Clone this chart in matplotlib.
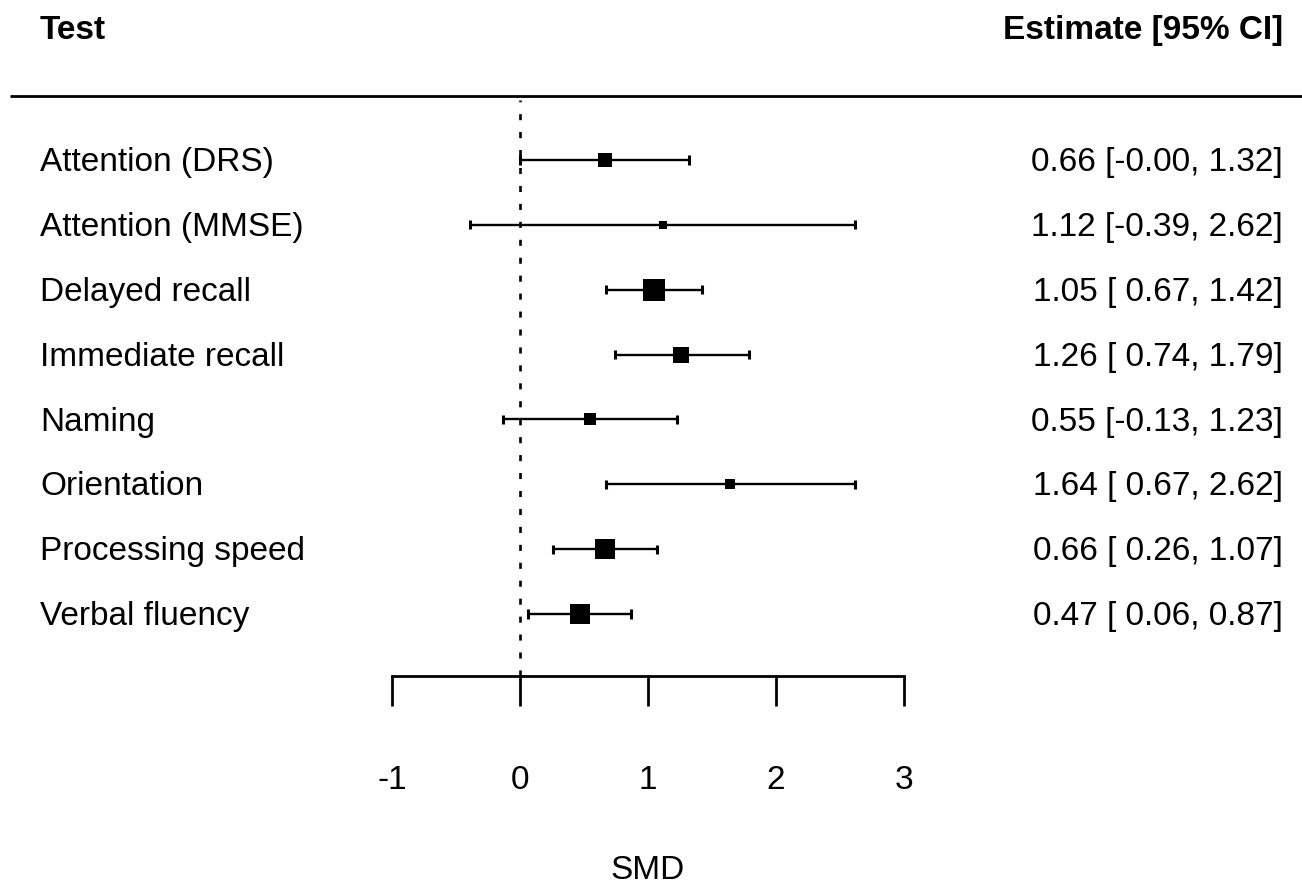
"""Forest plot of standardized mean differences per cognitive test."""

import numpy as np
import matplotlib
matplotlib.use("Agg")
import matplotlib.pyplot as plt

plt.rcParams["font.family"] = ["Liberation Sans", "DejaVu Sans"]

tests = [
    "Attention (DRS)",
    "Attention (MMSE)",
    "Delayed recall",
    "Immediate recall",
    "Naming",
    "Orientation",
    "Processing speed",
    "Verbal fluency",
]
estimate = [0.66, 1.12, 1.05, 1.26, 0.55, 1.64, 0.66, 0.47]
ci_low = [-0.00, -0.39, 0.67, 0.74, -0.13, 0.67, 0.26, 0.06]
ci_high = [1.32, 2.62, 1.42, 1.79, 1.23, 2.62, 1.07, 0.87]
x_ticks = [-1, 0, 1, 2, 3]
x_label = "SMD"
header_left = "Test"
header_right = "Estimate [95% CI]"

est = np.array(estimate)
lo = np.array(ci_low)
hi = np.array(ci_high)
k = len(tests)
rows = np.arange(k, 0, -1)  # top row = k

# box size from inverse-variance weights (metafor-like scaling)
se = (hi - lo) / (2 * 1.96)
w = 1.0 / se**2
w = w / w.sum()
norm = (w - w.min()) / (w.max() - w.min())
side_px = 8 + 14 * norm**0.8

fig = plt.figure(figsize=(13.02, 8.86), dpi=100)
ax = fig.add_axes([0, 0, 1, 1])
ax.set_xlim(-4.0625, 6.109)
ax.set_ylim(-3.194, 10.467)
ax.axis("off")

fs = 24
dy = -0.04  # small nudge so text sits like the R output

# headers and header rule
ax.text(-3.75, 10.0, header_left, ha="left", va="center", fontsize=fs, fontweight="bold")
ax.text(5.961, 10.0, header_right, ha="right", va="center", fontsize=fs, fontweight="bold")
ax.plot([-3.984, 6.109], [8.99, 8.99], color="black", lw=2.0, solid_capstyle="butt")

# reference line at 0
ax.plot([0, 0], [0.044, 8.92], color="black", lw=1.9,
        linestyle=(0, (2.3, 4.5)), dash_capstyle="butt")

# CIs with end caps, and boxes
cap = 0.07
for r, e, l, h, s in zip(rows, est, lo, hi, side_px):
    ax.plot([l, h], [r, r], color="black", lw=1.7, solid_capstyle="butt")
    ax.plot([l, l], [r - cap, r + cap], color="black", lw=2.2, solid_capstyle="butt")
    ax.plot([h, h], [r - cap, r + cap], color="black", lw=2.2, solid_capstyle="butt")
    ax.plot(e, r, marker="s", markersize=s * 0.72, color="black", markeredgewidth=0)

# left labels and right estimates
for r, t, e, l, h in zip(rows, tests, est, lo, hi):
    ax.text(-3.75, r + dy, t, ha="left", va="center", fontsize=fs)
    low_txt = "-0.00" if (l == 0 and np.signbit(l)) else f"{l:5.2f}"
    txt = f"{e:.2f} [{low_txt}, {h:.2f}]"
    ax.text(5.961, r + dy, txt, ha="right", va="center", fontsize=fs)

# x axis
axis_y = 0.044
tick_bottom = -0.418
ax.plot([x_ticks[0], x_ticks[-1]], [axis_y, axis_y], color="black", lw=2.0, solid_capstyle="projecting")
for t in x_ticks:
    ax.plot([t, t], [axis_y, tick_bottom], color="black", lw=2.0, solid_capstyle="butt")
    ax.text(t, -1.528 + dy, f"{t}", ha="center", va="center", fontsize=fs)
ax.text(1.0, -2.95, x_label, ha="center", va="center", fontsize=fs)

fig.savefig("out.png", dpi=100)
